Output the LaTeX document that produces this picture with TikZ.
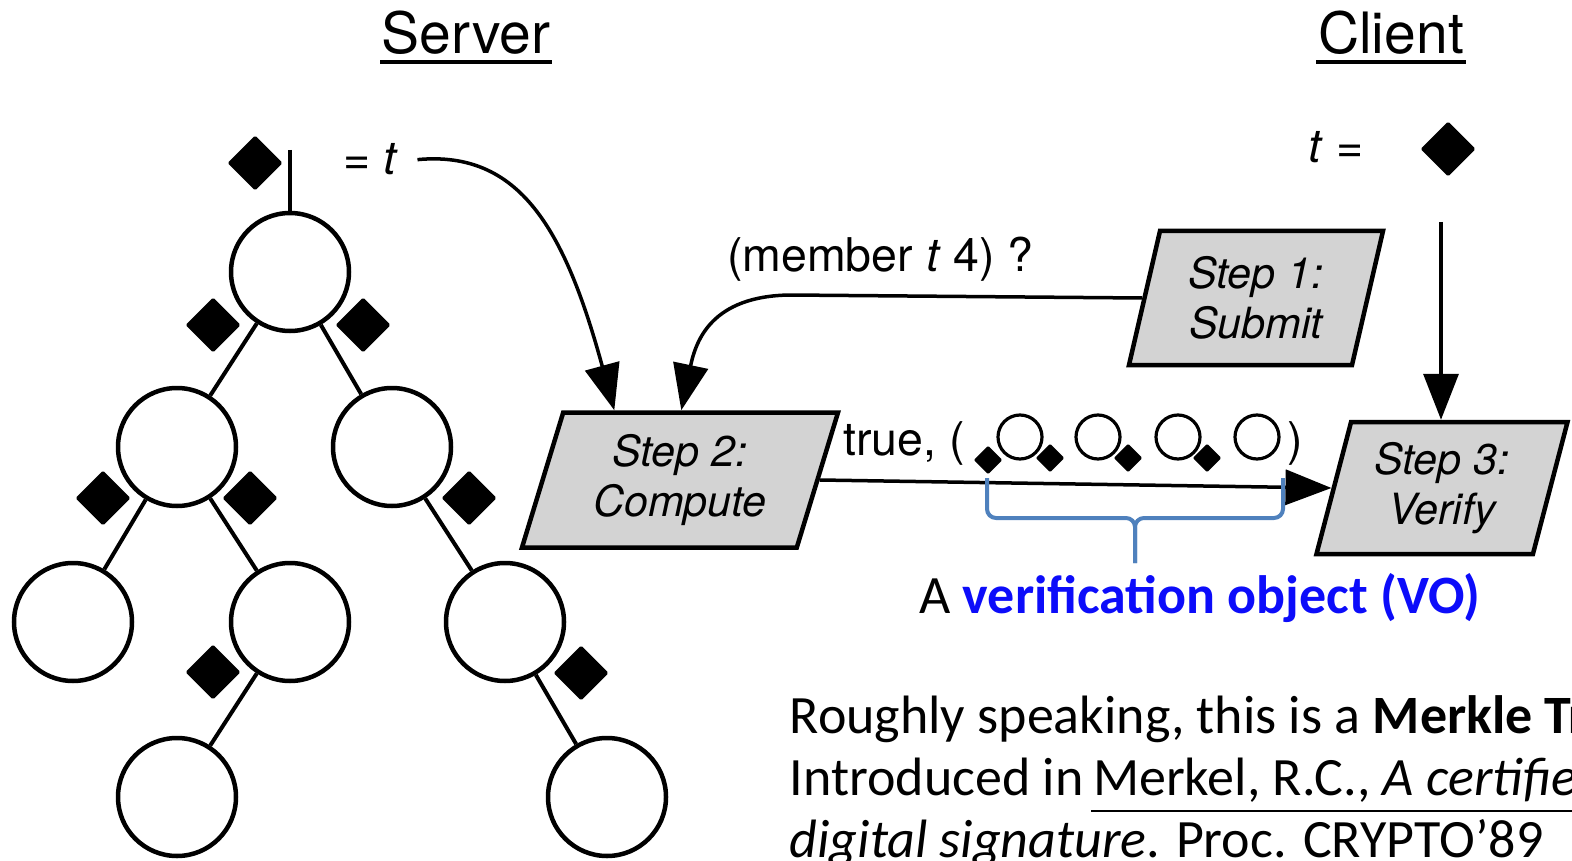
\documentclass[tikz,border=0pt]{standalone}
\usepackage{fontspec}
\setmainfont{TeX Gyre Heros}
\newfontfamily\calibri{Carlito}
\usetikzlibrary{arrows.meta,shapes.geometric}
\definecolor{stepgray}{RGB}{211,211,211}
\definecolor{bracecol}{RGB}{79,129,189}
\definecolor{voblue}{RGB}{12,12,250}
\newcommand{\lblfont}{\fontsize{46.5}{50}\selectfont}
\newcommand{\notefont}{\calibri\fontsize{54}{62}\selectfont}

\begin{document}
\begin{tikzpicture}[>={Triangle[length=46pt,width=35pt]},x=1pt,y=-1pt,line width=3.5pt]
    \useasboundingbox (0,0) rectangle (1572,861);
    \clip (0,0) rectangle (1572,861);
    \tikzset{
        hashdia/.style={diamond,fill=black,draw=black,line width=3pt,line join=round,minimum width=52pt,minimum height=52pt,inner sep=0pt},
        smallhash/.style={hashdia,minimum width=26pt,minimum height=26pt,line width=2.5pt},
        smallnode/.style={circle,draw=black,line width=3.2pt,minimum size=44pt,inner sep=0pt},
        stepbox/.style={trapezium,trapezium stretches body,draw=black,line width=4.5pt,fill=stepgray,align=center,inner sep=0pt,font=\fontsize{43}{50}\selectfont\itshape},
        headline/.style={font=\fontsize{57}{60}\selectfont,anchor=base,inner sep=0pt},
        lbl/.style={font=\lblfont},
        note/.style={anchor=base west,inner sep=0pt,font=\notefont}
    }

    \node[headline] (server) at (466,54) {Server};
    \node[headline] (client) at (1391,54) {Client};
    \draw ([yshift=-8pt]server.base west) -- ([yshift=-8pt]server.base east);
    \draw ([yshift=-8pt]client.base west) -- ([yshift=-8pt]client.base east);

    \begin{scope}[every node/.style={circle,draw=black,line width=4.5pt,minimum size=118pt,inner sep=0pt}]
        \node (1) at (290,272) {};
        \node (2) at (177,447) {};
        \node (3) at (392,447) {};
        \node (4) at (73,622) {};
        \node (5) at (290,622) {};
        \node (6) at (505,622) {};
        \node (7) at (177,797) {};
        \node (8) at (607,797) {};
    \end{scope}
    \coordinate (0) at (290,150);

    \begin{scope}[line width=4pt]
        \draw (0)--(1);
        \draw (1)--(2);
        \draw (1)--(3);
        \draw (2)--(4);
        \draw (2)--(5);
        \draw (3)--(6);
        \draw (5)--(7);
        \draw (6)--(8);
    \end{scope}

    \node[hashdia] (h0) at (255,163) {};
    \node[hashdia] (h1) at (213,325) {};
    \node[hashdia] (h2) at (363,325) {};
    \node[hashdia] (h3) at (103,498) {};
    \node[hashdia] (h4) at (250,498) {};
    \node[hashdia] (h5) at (469,498) {};
    \node[hashdia] (h6) at (213,672) {};
    \node[hashdia] (h7) at (581,673) {};
    \node[hashdia] (tc) at (1448,149) {};

    \node[lbl,anchor=base] (eqt) at (371,175) {= \textit{t}};
    \node[lbl,anchor=base] (teq) at (1336,163) {\textit{t} =};
    \node[lbl,anchor=base west] (query) at (722,272) {(member \textit{t} 4) ?};

    \node[stepbox,trapezium left angle=69.5,trapezium right angle=110.5,minimum width=254pt,minimum height=134pt] (s1) at (1256,298) {Step 1:\\Submit};
    \node[stepbox,trapezium left angle=65.7,trapezium right angle=114.3,minimum width=316pt,minimum height=135pt] (s2) at (680,480) {Step 2:\\Compute};
    \node[stepbox,trapezium left angle=69.3,trapezium right angle=110.7,minimum width=251pt,minimum height=132pt] (s3) at (1442,488) {Step 3:\\Verify};

    \draw[->] ([xshift=14pt]eqt.east) .. controls (520,150) and (565,230) .. ([xshift=-87pt]s2.top side);
    \draw[->] (s1.left side) -- (790,295) .. controls (712,296) and (696,340) .. ([xshift=-20pt]s2.top side);
    \draw[->] (s2.right side) -- (s3.left side);
    \coordinate (vs) at (1441,222);
    \draw[->] (vs) -- (vs |- s3.top side);

    \node[lbl,anchor=base east] (tru) at (970,455) {true, (};
    \node[lbl,anchor=base west] (cp) at (1282,455) {)};
    \foreach \x [count=\i] in {1020,1098,1178,1257}
        \node[smallnode] (v\i) at (\x,437) {};
    \foreach \x/\y [count=\i] in {988/460,1050/458,1128/458,1207/458}
        \node[smallhash] (w\i) at (\x,\y) {};

    \draw[bracecol,line width=4pt,rounded corners=9pt] (987,478) -- (987,518) -- (1135,518) -- (1135,563);
    \draw[bracecol,line width=4pt,rounded corners=9pt] (1283,478) -- (1283,518) -- (1135,518) -- (1135,563);
    \node[anchor=base,font=\notefont] (vo) at (1200,613) {A \textbf{\color{voblue}verification object (VO)}};

    \node[note] (note1) at (788,733) {Roughly speaking, this is a \textbf{Merkle Tree}};
    \node[note] (note2) at (788,795) {Introduced in};
    \node[note] (ref1) at ([xshift=6pt]note2.base east) {Merkel, R.C., \textit{A certified}};
    \node[note] (ref2) at (788,857) {\textit{digital signature}};
    \node[note] (note3) at ([xshift=-4pt]ref2.base east) {. Proc. CRYPTO’89};
    \draw[line width=2.5pt] ([yshift=-16pt]ref1.base west) -- ([yshift=-16pt]ref1.base east);
    \draw[line width=2.5pt] ([yshift=-16pt]ref2.base west) -- ([yshift=-16pt]ref2.base east);
\end{tikzpicture}
\end{document}
